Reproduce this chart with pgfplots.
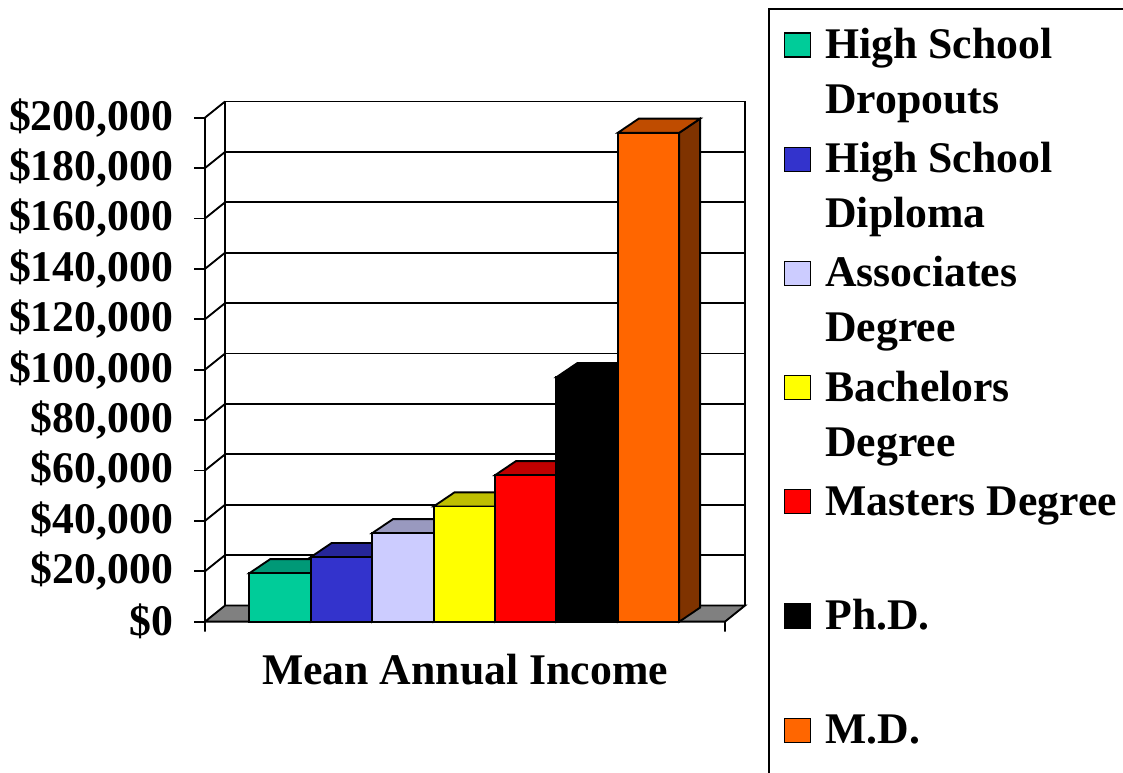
\documentclass[border=0pt]{standalone}
\usepackage{fontspec}
\setmainfont{Liberation Serif}
\usepackage{pgfplots}
\pgfplotsset{compat=1.18}
\definecolor{cGreen}{HTML}{00CC99}\definecolor{tGreen}{HTML}{009977}
\definecolor{cBlue}{HTML}{3333CC}\definecolor{tBlue}{HTML}{262699}
\definecolor{cLav}{HTML}{CCCCFF}\definecolor{tLav}{HTML}{9999BF}
\definecolor{cYel}{HTML}{FFFF00}\definecolor{tYel}{HTML}{BFBF00}
\definecolor{cRed}{HTML}{FF0000}\definecolor{tRed}{HTML}{BF0000}
\definecolor{cOra}{HTML}{FF6600}\definecolor{tOra}{HTML}{BF4C00}\definecolor{sOra}{HTML}{7F3300}
\definecolor{cFloor}{HTML}{808080}
\pgfplotsset{
  frontbar/.style={ybar, bar width=1, bar shift=0pt, draw=black, line width=1.4pt,
    legend image code/.code={\draw[##1,line width=0.9pt] (0pt,1.2pt) rectangle (19.5pt,19.2pt);}},
  face/.style={draw=black, line width=1.4pt, forget plot},
}
\newcommand{\bigfont}{\bfseries\fontsize{32.8}{41.25}\selectfont}
\newcommand{\LE}[2]{\parbox[t]{9cm}{\strut #1\\\strut #2}}
\begin{document}
\begin{tikzpicture}[font=\bigfont]
\begin{axis}[
  at={(153.75pt,113.5pt)}, anchor=south west,
  scale only axis, width=405pt, height=390.1pt,
  xmin=0, xmax=8.791, ymin=0, ymax=206400,
  clip=false,
  axis x line*=bottom, axis y line*=left,
  axis line style={draw=none},
  xtick=\empty,
  scaled y ticks=false,
  ytick={0,20000,40000,60000,80000,100000,120000,140000,160000,180000,200000},
  yticklabels={{\$0},{\$20,000},{\$40,000},{\$60,000},{\$80,000},{\$100,000},{\$120,000},{\$140,000},{\$160,000},{\$180,000},{\$200,000}},
  tick align=outside, major tick length=8.25pt,
  ytick style={line width=1.4pt, black},
  yticklabel style={anchor=east, inner sep=0pt, xshift=-15.5pt, font=\bigfont},
  xlabel={Mean Annual Income},
  xlabel style={at={(axis description cs:0.4815,-0.1217)}, anchor=base, inner sep=0pt, font=\bigfont},
  legend style={at={(1.0426,1.180)}, anchor=north west, draw=black, line width=1.2pt,
    inner xsep=11.5pt, inner ysep=8.5pt, row sep=3.15pt, column sep=10.5pt,
    nodes={inner sep=0pt, text depth=}, cells={anchor=base west},
    font=\bigfont},
]
% floor
\addplot[face, fill=cFloor] coordinates {(0,0) (8.465,0) (8.791,6400) (0.326,6400)} --cycle;
% back wall and gridlines
\addplot[face, unbounded coords=jump] coordinates {
 (0.326,6400) (0.326,206400) (8.791,206400) (8.791,6400) (nan,nan)
 (0.326,26400) (8.791,26400) (nan,nan)
 (0.326,46400) (8.791,46400) (nan,nan)
 (0.326,66400) (8.791,66400) (nan,nan)
 (0.326,86400) (8.791,86400) (nan,nan)
 (0.326,106400) (8.791,106400) (nan,nan)
 (0.326,126400) (8.791,126400) (nan,nan)
 (0.326,146400) (8.791,146400) (nan,nan)
 (0.326,166400) (8.791,166400) (nan,nan)
 (0.326,186400) (8.791,186400)};
% left wall, front axis lines
\addplot[face, unbounded coords=jump] coordinates {
 (0,-3970) (0,200000) (nan,nan)
 (8.465,0) (8.465,-3970) (nan,nan)
 (0,20000) (0.326,26400) (nan,nan)
 (0,40000) (0.326,46400) (nan,nan)
 (0,60000) (0.326,66400) (nan,nan)
 (0,80000) (0.326,86400) (nan,nan)
 (0,100000) (0.326,106400) (nan,nan)
 (0,120000) (0.326,126400) (nan,nan)
 (0,140000) (0.326,146400) (nan,nan)
 (0,160000) (0.326,166400) (nan,nan)
 (0,180000) (0.326,186400) (nan,nan)
 (0,200000) (0.326,206400)};
% bar 1
\addplot[face, fill=tGreen] coordinates {(1.721,0) (2.061,5600) (2.061,24800) (1.721,19200)} --cycle;
\addplot[face, fill=tGreen] coordinates {(0.721,19200) (1.721,19200) (2.061,24800) (1.061,24800)} --cycle;
\addplot[frontbar, fill=cGreen] coordinates {(1.221,19200)};
\addlegendentry{\LE{High School}{Dropouts}}
% bar 2
\addplot[face, fill=tBlue] coordinates {(2.721,0) (3.061,5600) (3.061,31200) (2.721,25600)} --cycle;
\addplot[face, fill=tBlue] coordinates {(1.721,25600) (2.721,25600) (3.061,31200) (2.061,31200)} --cycle;
\addplot[frontbar, fill=cBlue] coordinates {(2.221,25600)};
\addlegendentry{\LE{High School}{Diploma}}
% bar 3
\addplot[face, fill=tLav] coordinates {(3.721,0) (4.061,5600) (4.061,40700) (3.721,35100)} --cycle;
\addplot[face, fill=tLav] coordinates {(2.721,35100) (3.721,35100) (4.061,40700) (3.061,40700)} --cycle;
\addplot[frontbar, fill=cLav] coordinates {(3.221,35100)};
\addlegendentry{\LE{Associates}{Degree}}
% bar 4
\addplot[face, fill=tYel] coordinates {(4.721,0) (5.061,5600) (5.061,51300) (4.721,45700)} --cycle;
\addplot[face, fill=tYel] coordinates {(3.721,45700) (4.721,45700) (5.061,51300) (4.061,51300)} --cycle;
\addplot[frontbar, fill=cYel] coordinates {(4.221,45700)};
\addlegendentry{\LE{Bachelors}{Degree}}
% bar 5
\addplot[face, fill=tRed] coordinates {(5.721,0) (6.061,5600) (6.061,63700) (5.721,58100)} --cycle;
\addplot[face, fill=tRed] coordinates {(4.721,58100) (5.721,58100) (6.061,63700) (5.061,63700)} --cycle;
\addplot[frontbar, fill=cRed] coordinates {(5.221,58100)};
\addlegendentry{\LE{Masters Degree}{}}
% bar 6
\addplot[face, fill=black] coordinates {(6.721,0) (7.061,5600) (7.061,102600) (6.721,97000)} --cycle;
\addplot[face, fill=black] coordinates {(5.721,97000) (6.721,97000) (7.061,102600) (6.061,102600)} --cycle;
\addplot[frontbar, fill=black] coordinates {(6.221,97000)};
\addlegendentry{\LE{Ph.D.}{}}
% bar 7
\addplot[face, fill=sOra] coordinates {(7.721,0) (8.061,5600) (8.061,199600) (7.721,194000)} --cycle;
\addplot[face, fill=tOra] coordinates {(6.721,194000) (7.721,194000) (8.061,199600) (7.061,199600)} --cycle;
\addplot[frontbar, fill=cOra] coordinates {(7.221,194000)};
\addlegendentry{\LE{M.D.}{}}
\end{axis}
\pgfresetboundingbox
\path[use as bounding box] (0,0) rectangle (842.25pt,579.75pt);
\end{tikzpicture}
\end{document}
